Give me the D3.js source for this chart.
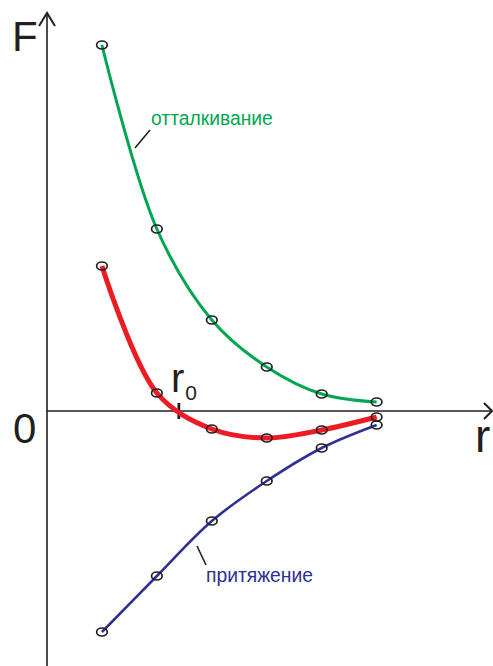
<!DOCTYPE html>
<html>
<head>
<meta charset="utf-8">
<script src="https://cdn.jsdelivr.net/npm/d3@7"></script>
<style>
  body { margin: 0; background: #fff; }
  text { font-family: "Liberation Sans", Arial, sans-serif; }
</style>
</head>
<body>
<div id="main_view"></div>
<script>
// distance r (arbitrary units) and force values F
var rValues = [1, 2, 3, 4, 5, 6];
var repulsion = [36.6, 18.2, 9.1, 4.4, 1.7, 0.9];
var attraction = [-22.1, -16.5, -11.0, -7.0, -3.7, -1.4];
var total = [14.5, 1.8, -1.8, -2.7, -1.9, -0.6];
var r0 = 2.4;

var width = 493, height = 666;

var xScale = d3.scaleLinear().domain([0, 8.1]).range([47, 492]);
var yScale = d3.scaleLinear().domain([-25.5, 39.8]).range([666, 13]);

var svg = d3.select("#main_view").append("svg")
    .attr("width", width)
    .attr("height", height);

var axisColor = "#231f20";

// axes
svg.append("line")
    .attr("x1", xScale(0)).attr("x2", xScale(0))
    .attr("y1", yScale(-25.5)).attr("y2", yScale(39.8))
    .attr("stroke", axisColor).attr("stroke-width", 1.6);
svg.append("line")
    .attr("x1", xScale(0)).attr("x2", xScale(8.1))
    .attr("y1", yScale(0)).attr("y2", yScale(0))
    .attr("stroke", axisColor).attr("stroke-width", 1.6);

// arrow heads
var ax = xScale(0), ay = yScale(39.8);
svg.append("path")
    .attr("d", "M" + (ax - 8) + "," + (ay + 13) + "L" + ax + "," + ay + "L" + (ax + 8) + "," + (ay + 13))
    .attr("fill", "none").attr("stroke", axisColor).attr("stroke-width", 2);
var bx = xScale(8.1), by = yScale(0);
svg.append("path")
    .attr("d", "M" + (bx - 8) + "," + (by - 8) + "L" + bx + "," + by + "L" + (bx - 8) + "," + (by + 8))
    .attr("fill", "none").attr("stroke", axisColor).attr("stroke-width", 2);

// axis labels
svg.append("text").attr("x", 12).attr("y", 51)
    .attr("font-size", 42).attr("fill", axisColor).text("F");
svg.append("text").attr("x", 13).attr("y", 443)
    .attr("font-size", 42).attr("fill", axisColor).text("0");
svg.append("text").attr("x", 475).attr("y", 452)
    .attr("font-size", 46).attr("fill", axisColor).text("r");

// r0 tick and label
svg.append("line")
    .attr("x1", xScale(r0)).attr("x2", xScale(r0))
    .attr("y1", yScale(0) - 8).attr("y2", yScale(0) + 8)
    .attr("stroke", axisColor).attr("stroke-width", 2.8);
var r0Label = svg.append("text").attr("x", 171).attr("y", 392)
    .attr("font-size", 40).attr("fill", axisColor).text("r");
r0Label.append("tspan").attr("font-size", 21).attr("dx", 1).attr("dy", 8).text("0");

var line = d3.line()
    .x(function(d, i) { return xScale(rValues[i]); })
    .y(function(d) { return yScale(d); })
    .curve(d3.curveCatmullRom.alpha(0.5));

var series = [
  {values: repulsion, color: "#00a651", width: 3},
  {values: total, color: "#ed1c24", width: 5},
  {values: attraction, color: "#2e3192", width: 2.6}
];

series.forEach(function(s) {
  svg.append("path")
      .datum(s.values)
      .attr("fill", "none")
      .attr("stroke", s.color)
      .attr("stroke-width", s.width)
      .attr("d", line);
});

series.forEach(function(s) {
  svg.selectAll(null)
      .data(s.values)
    .enter().append("ellipse")
      .attr("cx", function(d, i) { return xScale(rValues[i]); })
      .attr("cy", function(d) { return yScale(d); })
      .attr("rx", 5.3)
      .attr("ry", 4)
      .attr("fill", "none")
      .attr("stroke", "#231f20")
      .attr("stroke-width", 1.7);
});

// curve labels with leaders
svg.append("line")
    .attr("x1", 135).attr("y1", 148).attr("x2", 150).attr("y2", 130)
    .attr("stroke", axisColor).attr("stroke-width", 1.6);
svg.append("text").attr("x", 151).attr("y", 125)
    .attr("font-size", 19.3).attr("fill", "#00a651").text("отталкивание");

svg.append("line")
    .attr("x1", 197).attr("y1", 546).attr("x2", 206).attr("y2", 565)
    .attr("stroke", axisColor).attr("stroke-width", 1.6);
svg.append("text").attr("x", 206).attr("y", 582)
    .attr("font-size", 19.3).attr("fill", "#2e3192").text("притяжение");
</script>
</body>
</html>
